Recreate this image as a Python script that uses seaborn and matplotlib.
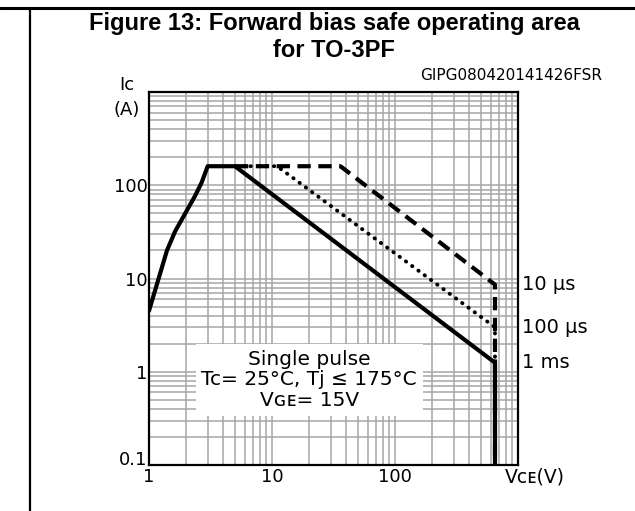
import pandas as pd
import matplotlib.pyplot as plt
import seaborn as sns
from matplotlib.lines import Line2D

# curve data (VCE in V, IC in A)
v_1ms = [1, 1.4, 1.63, 2.37, 2.68, 3.0, 5.0, 650, 650]
i_1ms = [4.5, 20, 32, 77, 107, 160, 160, 1.25, 0.1]
v_100us = [5.0, 11, 650, 650]
i_100us = [160, 160, 3.0, 0.1]
v_10us = [5.0, 36, 650, 650]
i_10us = [160, 160, 8.6, 0.1]

curve_names = ["10 µs", "100 µs", "1 ms"]
curve_ends = [8.6, 3.0, 1.25]

x_ticks = [1, 10, 100]
x_labels = ["1", "10", "100"]
y_ticks = [0.1, 1, 10, 100]
y_labels = ["0.1", "1", "10", "100"]

sns.set_theme(style="white")
plt.rcParams['font.family'] = ['DejaVu Sans']
plt.rcParams['text.color'] = 'black'

df = pd.concat([
    pd.DataFrame({'vce': v_1ms, 'ic': i_1ms, 'pulse': '1 ms'}),
    pd.DataFrame({'vce': v_100us, 'ic': i_100us, 'pulse': '100 µs'}),
    pd.DataFrame({'vce': v_10us, 'ic': i_10us, 'pulse': '10 µs'}),
])

fig = plt.figure(figsize=(6.35, 5.11), dpi=100)
ax = fig.add_axes([149 / 635, 46 / 511, 369 / 635, 373 / 511])

styles = {
    '1 ms': dict(ls='-', lw=3.0),
    '100 µs': dict(ls=(0, (0.1, 1.9)), lw=2.8, dash_capstyle='round'),
    '10 µs': dict(ls=(0, (3.2, 1.8)), lw=3.0),
}
for name, sub in df.groupby('pulse', sort=False):
    sns.lineplot(data=sub, x='vce', y='ic', ax=ax, color='black', sort=False,
                 estimator=None, legend=False, **styles[name])

ax.set_xscale('log')
ax.set_yscale('log')
ax.set_xlim(1, 1000)
ax.set_ylim(0.1, 1000)
ax.set_xlabel('')
ax.set_ylabel('')

ax.set_axisbelow(True)
ax.grid(which='both', color='#a6a6a6', lw=1.1)
ax.set_xticks(x_ticks)
ax.set_xticklabels(x_labels)
ax.set_yticks(y_ticks)
ax.set_yticklabels(y_labels)
ax.tick_params(which='both', length=0, labelsize=13, colors='black')
ax.tick_params(axis='y', pad=1)
ax.tick_params(axis='x', pad=2)
ax.get_yticklabels()[0].set_va('baseline')
for s in ax.spines.values():
    s.set_color('black')
    s.set_linewidth(1.6)

# pulse-width labels at the right edge
for name, yv in zip(curve_names, curve_ends):
    ax.text(1.012, yv, name, transform=ax.get_yaxis_transform(),
            ha='left', va='center', fontsize=14)

# axis labels
ax.text(-0.06, 1.02, 'Iᴄ', transform=ax.transAxes, ha='center', va='center', fontsize=13)
ax.text(-0.06, 0.952, '(A)', transform=ax.transAxes, ha='center', va='center', fontsize=13)
ax.text(1.046, -0.032, 'Vᴄᴇ(V)', transform=ax.transAxes, ha='center', va='center', fontsize=13.5)

# conditions box
ax.text(0.434, 0.228, 'Single pulse\nTc= 25°C, Tj ≤ 175°C\nVɢᴇ= 15V', transform=ax.transAxes,
        ha='center', va='center', fontsize=14.5, linespacing=1.12, zorder=2.5,
        bbox=dict(facecolor='white', edgecolor='none', pad=4))

fig.text(334 / 635, 1 - 37 / 511, 'Figure 13: Forward bias safe operating area\nfor TO-3PF',
         ha='center', va='center', fontsize=17, fontweight='bold',
         family=['Liberation Sans', 'DejaVu Sans'], linespacing=1.2)
fig.text(602 / 635, 1 - 75 / 511, 'GIPG080420141426FSR', ha='right', va='center', fontsize=11)

# page frame lines
fig.add_artist(Line2D([0, 1], [1 - 8 / 511, 1 - 8 / 511], color='black', lw=2.2))
fig.add_artist(Line2D([30 / 635, 30 / 635], [0, 1 - 8 / 511], color='black', lw=1.6))

fig.savefig('out.png', dpi=100)
